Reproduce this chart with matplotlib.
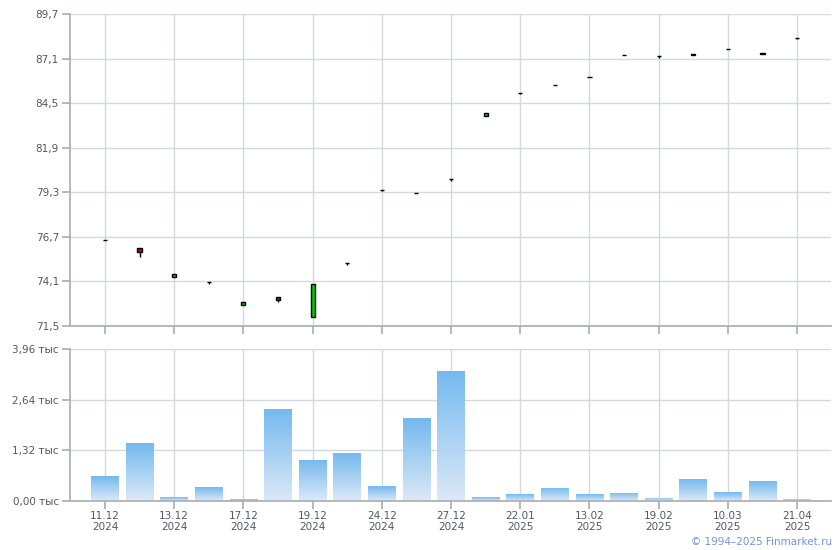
import matplotlib
matplotlib.use("Agg")
import matplotlib.pyplot as plt
import numpy as np
from matplotlib.colors import LinearSegmentedColormap

# ---- data ----
tick_labels = ["11.12\n2024", "13.12\n2024", "17.12\n2024", "19.12\n2024", "24.12\n2024",
               "27.12\n2024", "22.01\n2025", "13.02\n2025", "19.02\n2025", "10.03\n2025",
               "21.04\n2025"]
opens  = [76.50, 76.03, 74.38, 74.04, 72.74, 73.17, 72.04, 75.15, 79.45, 79.24, 80.05,
          83.77, 85.07, 85.54, 86.00, 87.29, 87.23, 87.30, 87.64, 87.35, 88.28]
closes = [76.50, 75.83, 74.51, 74.04, 72.91, 73.00, 73.93, 75.15, 79.45, 79.24, 80.05,
          83.91, 85.07, 85.54, 86.00, 87.29, 87.23, 87.35, 87.64, 87.40, 88.28]
highs  = [76.50, 76.03, 74.51, 74.04, 72.91, 73.17, 73.93, 75.15, 79.45, 79.24, 80.05,
          83.91, 85.07, 85.54, 86.00, 87.29, 87.23, 87.35, 87.64, 87.40, 88.28]
lows   = [76.50, 75.54, 74.38, 73.96, 72.74, 72.92, 72.04, 75.05, 79.39, 79.24, 79.97,
          83.77, 85.01, 85.54, 86.00, 87.29, 87.15, 87.30, 87.64, 87.35, 88.22]
volumes = [0.65, 1.51, 0.10, 0.36, 0.04, 2.40, 1.07, 1.25, 0.39, 2.16, 3.39,
           0.10, 0.18, 0.34, 0.18, 0.21, 0.08, 0.57, 0.23, 0.52, 0.06]
price_ticks = [71.5, 74.1, 76.7, 79.3, 81.9, 84.5, 87.1, 89.7]
vol_ticks = [0.0, 1.32, 2.64, 3.96]

W, H = 840, 550
fig = plt.figure(figsize=(W / 100, H / 100), dpi=100)
plt.rcParams['font.family'] = ['DejaVu Sans']

left, right = 70, 831
def axrect(top, bottom):
    return [left / W, (H - bottom) / H, (right - left) / W, (bottom - top) / H]

ax1 = fig.add_axes(axrect(14, 326))
ax2 = fig.add_axes(axrect(349, 501))

grid_c = "#d5d9dd"
spine_c = "#a9acb6"
text_c = "#555566"
n = len(opens)
x = np.arange(n)
major = x[::2]

for ax in (ax1, ax2):
    ax.set_xlim(-1.01, 20.98)
    for s in ("top", "right"):
        ax.spines[s].set_visible(False)
    for s in ("left", "bottom"):
        ax.spines[s].set_color(spine_c)
        ax.spines[s].set_linewidth(1.2)
    ax.set_xticks(major)
    ax.grid(True, color=grid_c, linewidth=1.0)
    ax.set_axisbelow(True)
    ax.tick_params(axis="both", colors=spine_c, labelcolor=text_c, labelsize=7.5,
                   length=6, width=1.2)
ax2.tick_params(axis="x", pad=1.5)
ax2.tick_params(axis="y", pad=2)
ax1.tick_params(axis="y", pad=2)

# ---- price panel ----
ax1.set_ylim(71.5, 89.7)
ax1.set_yticks(price_ticks)
ax1.set_yticklabels([f"{v:.1f}".replace(".", ",") for v in price_ticks])
ax1.set_xticklabels([])
cw = 0.12
ax1.vlines(x, lows, highs, color="black", linewidth=1.0, zorder=3)
for i in range(n):
    o, c = opens[i], closes[i]
    if c > o:
        fc = "#00cc00"
    elif c < o:
        fc = "#dd0000"
    else:
        fc = "black"
    ax1.bar(x[i], abs(c - o), bottom=min(o, c), width=cw,
            color=fc, edgecolor="black", linewidth=1.0, zorder=4)

# ---- volume panel ----
ax2.set_ylim(0, 3.96)
ax2.set_yticks(vol_ticks)
ax2.set_yticklabels([f"{v:.2f}".replace(".", ",") + " тыс" for v in vol_ticks])
ax2.set_xticklabels(tick_labels, linespacing=1.1)
bars = ax2.bar(x, volumes, width=0.8, color="#cfe3f6", edgecolor="none", zorder=2)
grad = np.linspace(0, 1, 256).reshape(-1, 1)
cmap = LinearSegmentedColormap.from_list("g", ["#dce9f7", "#74b9ef"])
for b, v in zip(bars, volumes):
    im = ax2.imshow(grad, cmap=cmap, aspect="auto", origin="lower",
                    extent=(b.get_x(), b.get_x() + b.get_width(), 0, v), zorder=2,
                    interpolation="bilinear")
    im.set_clip_path(b)
ax2.set_xlim(-1.01, 20.98)
ax2.set_ylim(0, 3.96)

fig.text(832 / W, (H - 542) / H, "© 1994–2025 Finmarket.ru", color="#7391e6",
         fontsize=7.5, ha="right", va="center")

fig.savefig("out.png", dpi=100)
